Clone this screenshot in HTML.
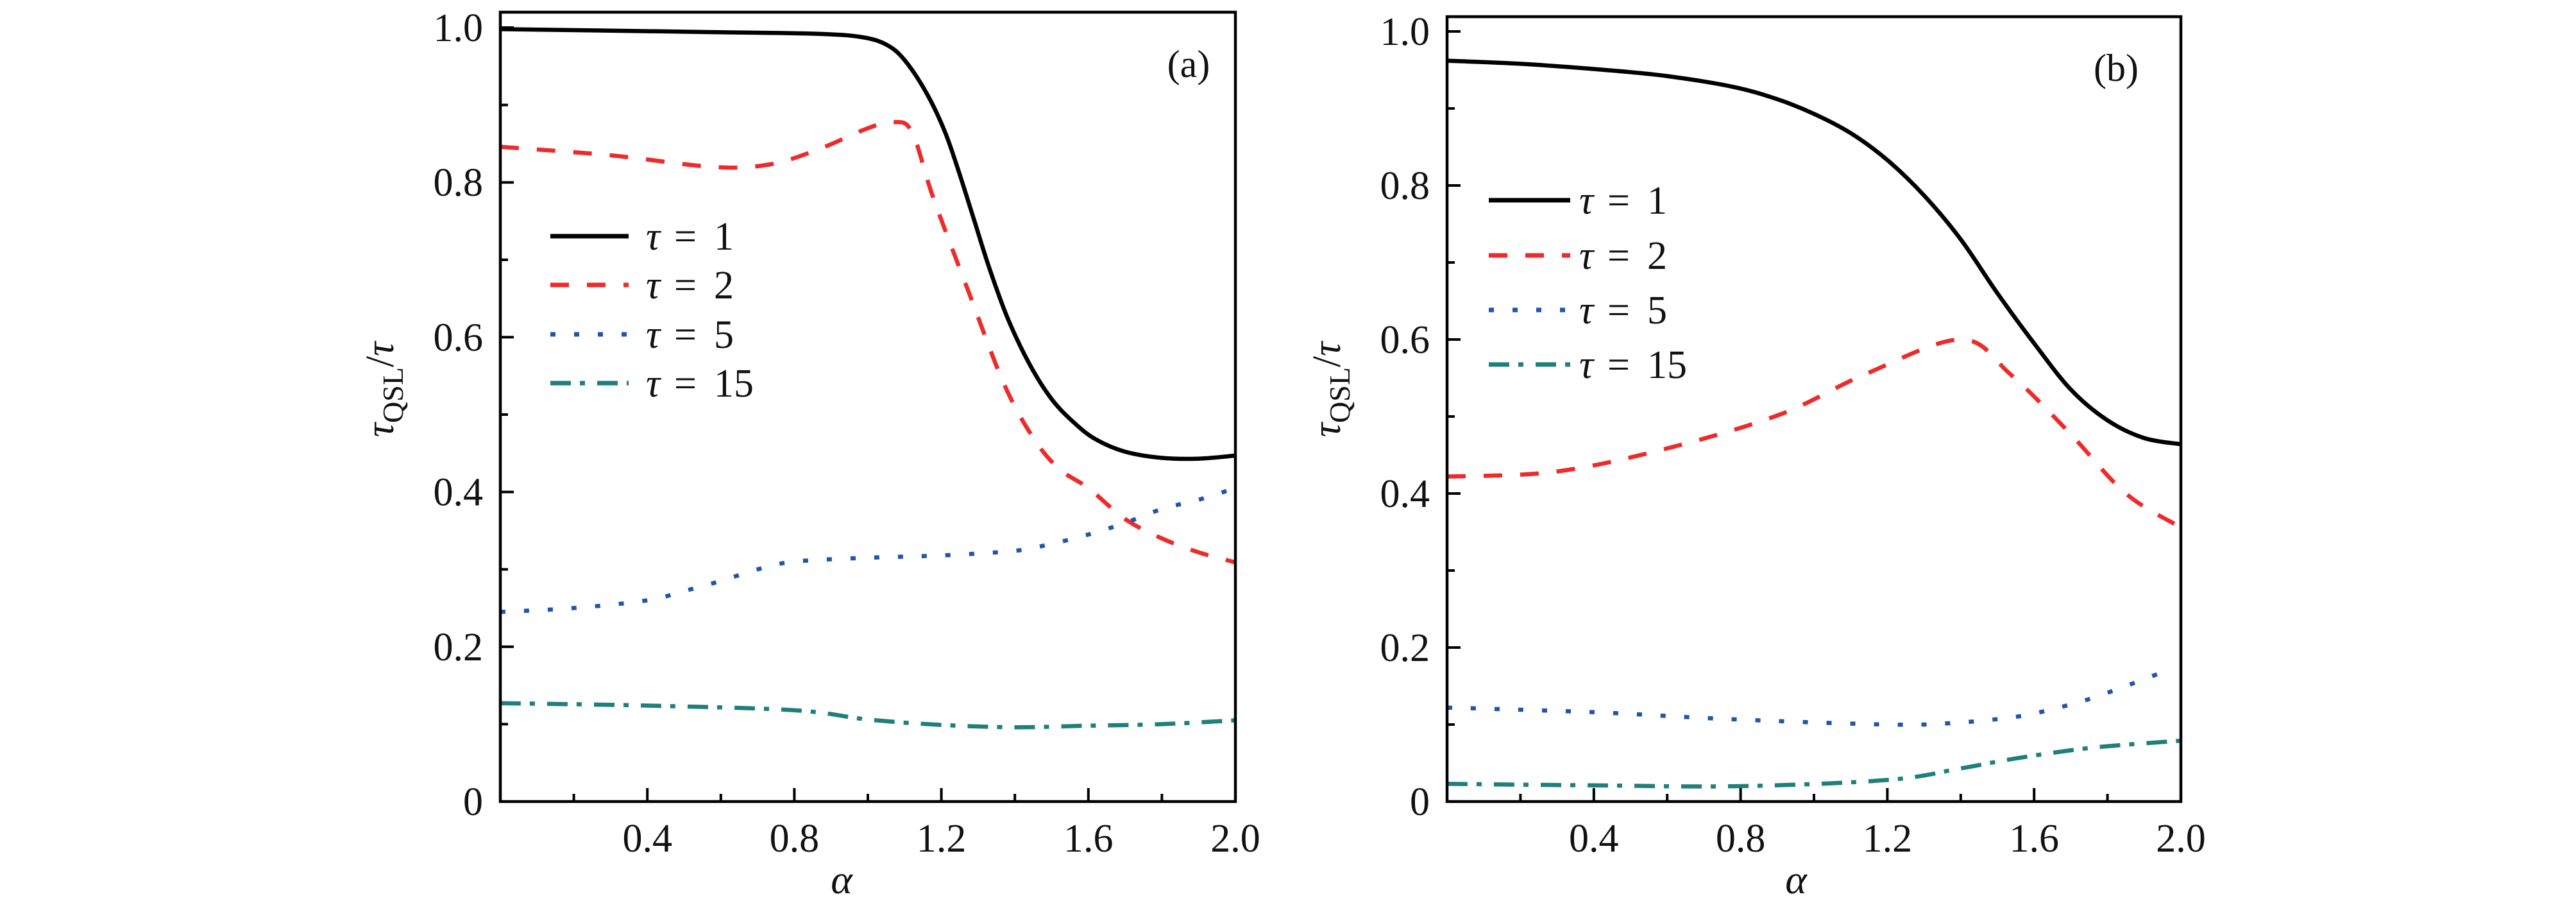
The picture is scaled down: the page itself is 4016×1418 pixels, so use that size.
<!DOCTYPE html>
<html><head><meta charset="utf-8"><style>
html,body{margin:0;padding:0;background:#fff}
svg{display:block}
text{font-family:"Liberation Serif","DejaVu Serif",serif;fill:#111}
</style></head><body>
<svg id="chart" width="4016" height="1418" viewBox="0 0 4016 1418" xmlns="http://www.w3.org/2000/svg"></svg>
<script>
// ---- data ----
const xTicks = [0.4, 0.8, 1.2, 1.6, 2.0];
const xTickLabels = ["0.4", "0.8", "1.2", "1.6", "2.0"];
const yTicks = [0, 0.2, 0.4, 0.6, 0.8, 1.0];
const yTickLabels = ["0", "0.2", "0.4", "0.6", "0.8", "1.0"];
const seriesValues = ["1", "2", "5", "15"];

const aAlpha1 = [0, 0.3, 0.6, 0.86, 0.98, 1.05, 1.1, 1.16, 1.21, 1.25, 1.29, 1.33, 1.38, 1.44, 1.5, 1.56, 1.62, 1.7, 1.8, 1.9, 2.0];
const aTau1 = [0.998, 0.996, 0.994, 0.992, 0.988, 0.978, 0.958, 0.915, 0.865, 0.81, 0.75, 0.69, 0.625, 0.565, 0.52, 0.49, 0.468, 0.452, 0.444, 0.443, 0.447];
const aAlpha2 = [0, 0.3, 0.578, 0.73, 0.862, 1.0, 1.07, 1.12, 1.178, 1.273, 1.37, 1.45, 1.52, 1.6, 1.7, 1.8, 1.9, 2.0];
const aTau2 = [0.846, 0.835, 0.82, 0.823, 0.842, 0.87, 0.878, 0.865, 0.78, 0.66, 0.54, 0.47, 0.43, 0.405, 0.365, 0.34, 0.322, 0.309];
const aAlpha5 = [0, 0.2, 0.4, 0.5, 0.6, 0.7, 0.8, 1.0, 1.2, 1.4, 1.5, 1.6, 1.7, 1.8, 1.9, 2.0];
const aTau5 = [0.245, 0.25, 0.26, 0.272, 0.285, 0.3, 0.31, 0.315, 0.318, 0.324, 0.333, 0.345, 0.36, 0.378, 0.39, 0.405];
const aAlpha15 = [0, 0.4, 0.8, 1.0, 1.2, 1.4, 1.6, 1.8, 2.0];
const aTau15 = [0.127, 0.124, 0.118, 0.106, 0.099, 0.096, 0.098, 0.1, 0.105];

const bAlpha1 = [0, 0.2, 0.43, 0.6, 0.78, 0.9, 1.0, 1.1, 1.2, 1.3, 1.4, 1.5, 1.6, 1.7, 1.8, 1.9, 2.0];
const bTau1 = [0.962, 0.958, 0.95, 0.942, 0.928, 0.912, 0.893, 0.868, 0.833, 0.787, 0.73, 0.66, 0.595, 0.535, 0.495, 0.472, 0.464];
const bAlpha2 = [0, 0.29, 0.587, 0.904, 1.14, 1.4, 1.535, 1.694, 1.85, 2.0];
const bTau2 = [0.422, 0.428, 0.457, 0.502, 0.555, 0.6, 0.555, 0.48, 0.4, 0.356];
const bAlpha5 = [0, 0.4, 0.77, 1.2, 1.38, 1.55, 1.65, 1.75, 1.85, 1.95];
const bTau5 = [0.122, 0.116, 0.107, 0.1, 0.102, 0.11, 0.12, 0.133, 0.15, 0.168];
const bAlpha15 = [0, 0.4, 0.8, 1.2, 1.4, 1.55, 1.76, 2.0];
const bTau15 = [0.023, 0.021, 0.02, 0.028, 0.043, 0.056, 0.07, 0.079];

const NS = "http://www.w3.org/2000/svg";
const svg = document.getElementById("chart");
function mk(tag, attrs, parent) {
  const e = document.createElementNS(NS, tag);
  for (const k in attrs) e.setAttribute(k, attrs[k]);
  (parent || svg).appendChild(e);
  return e;
}
const styles = [
  {color: "#000000", dash: ""},
  {color: "#ee2a2a", dash: "29 28"},
  {color: "#2255aa", dash: "8 29"},
  {color: "#1f7f7a", dash: "32 14 8 19"}
];
function smoothPath(pts) {
  let d = "M" + pts[0][0].toFixed(1) + "," + pts[0][1].toFixed(1);
  for (let i = 0; i < pts.length - 1; i++) {
    const p0 = pts[Math.max(0, i - 1)], p1 = pts[i], p2 = pts[i + 1], p3 = pts[Math.min(pts.length - 1, i + 2)];
    const c1 = [p1[0] + (p2[0] - p0[0]) / 6, p1[1] + (p2[1] - p0[1]) / 6];
    const c2 = [p2[0] - (p3[0] - p1[0]) / 6, p2[1] - (p3[1] - p1[1]) / 6];
    d += " C" + c1[0].toFixed(1) + "," + c1[1].toFixed(1) + " " + c2[0].toFixed(1) + "," + c2[1].toFixed(1) + " " + p2[0].toFixed(1) + "," + p2[1].toFixed(1);
  }
  return d;
}

function panel(cfg) {
  const g = mk("g", {});
  
  
  const L = cfg.left, R = cfg.right, T = cfg.top, B = cfg.bottom;
  const xs = v => L + (v / 2.0) * (R - L);
  const ys = v => B - v * cfg.yUnit;
  const clip = mk("clipPath", {id: cfg.name + "-clip"}, g);
  mk("rect", {x: L, y: T, width: R - L, height: B - T}, clip);
  const series = [[cfg.a1, cfg.t1], [cfg.a2, cfg.t2], [cfg.a5, cfg.t5], [cfg.a15, cfg.t15]];
  const sg = mk("g", {"clip-path": "url(#" + cfg.name + "-clip)"}, g);
  series.forEach((s, i) => {
    const pts = s[0].map((a, j) => [xs(a), ys(s[1][j])]);
    const p = mk("path", {d: smoothPath(pts), fill: "none", stroke: styles[i].color, "stroke-width": 6.5, "stroke-dasharray": styles[i].dash}, sg);
    
    
  });
  const fr = mk("rect", {x: L, y: T, width: R - L, height: B - T, fill: "none", stroke: "#000", "stroke-width": 4.5}, g);
  
  
  for (let k = 0; k <= 10; k++) {
    const v = k / 10, y = ys(v), major = k % 2 === 0;
    const t = mk("line", {x1: L, x2: L + (major ? 21 : 12), y1: y, y2: y, stroke: "#000", "stroke-width": 4}, g);
    
    
  }
  yTicks.forEach((v, i) => {
    const t = mk("text", {x: L - 27, y: ys(v) + 21, "text-anchor": "end", "font-size": 62}, g);
    t.textContent = yTickLabels[i];
    
    
  });
  for (let k = 1; k < 10; k++) {
    const v = k * 0.2, x = xs(v), major = k % 2 === 0;
    const t = mk("line", {x1: x, x2: x, y1: B, y2: B - (major ? 21 : 12), stroke: "#000", "stroke-width": 4}, g);
    
    
  }
  xTicks.forEach((v, i) => {
    const t = mk("text", {x: xs(v), y: 1327, "text-anchor": "middle", "font-size": 62}, g);
    t.textContent = xTickLabels[i];
    
    
  });
  const xt = mk("text", {x: cfg.alphaX, y: 1392, "text-anchor": "middle", "font-size": 64, "font-style": "italic"}, g);
  xt.textContent = "α";
  
  
  const yt = mk("text", {x: 0, y: 0, "text-anchor": "middle", "font-size": 62, transform: "translate(" + cfg.ylabX + "," + cfg.ylabY + ") rotate(-90)"}, g);
  
  
  const s1 = mk("tspan", {"font-style": "italic"}, yt); s1.textContent = "τ";
  const s2 = mk("tspan", {dy: 15, "font-size": 46}, yt); s2.textContent = "QSL";
  const s3 = mk("tspan", {dy: -15}, yt); s3.textContent = "/";
  const s4 = mk("tspan", {"font-style": "italic"}, yt); s4.textContent = "τ";
  const pl = mk("text", {x: cfg.tagX, y: cfg.tagY, "text-anchor": "middle", "font-size": 60}, g);
  pl.textContent = cfg.tag;
  
  
  const lg = mk("g", {}, g);
  
  
  seriesValues.forEach((val, i) => {
    const y = cfg.legY[i];
    const e = mk("g", {}, lg);
    
    
    mk("line", {x1: cfg.legX1, x2: cfg.legX2, y1: y, y2: y, stroke: styles[i].color, "stroke-width": 7, "stroke-dasharray": styles[i].dash}, e);
    const t1 = mk("text", {x: cfg.legTX, y: y + 21, "font-size": 62, "font-style": "italic"}, e);
    t1.textContent = "τ";
    const t2 = mk("text", {x: cfg.legTX + 44, y: y + 21, "font-size": 62}, e);
    t2.textContent = "=";
    const t3 = mk("text", {x: cfg.legTX + 106, y: y + 21, "font-size": 62}, e);
    t3.textContent = val;
  });
}

panel({name: "panel-a", left: 780, right: 1926, top: 19, bottom: 1249, yUnit: 1206,
  a1: aAlpha1, t1: aTau1, a2: aAlpha2, t2: aTau2, a5: aAlpha5, t5: aTau5, a15: aAlpha15, t15: aTau15,
  alphaX: 1312, ylabX: 613, ylabY: 607, tag: "(a)", tagX: 1853, tagY: 120,
  legX1: 858, legX2: 980, legTX: 1007, legY: [368, 444, 521, 597]});
panel({name: "panel-b", left: 2256, right: 3400, top: 26, bottom: 1249, yUnit: 1200,
  a1: bAlpha1, t1: bTau1, a2: bAlpha2, t2: bTau2, a5: bAlpha5, t5: bTau5, a15: bAlpha15, t15: bTau15,
  alphaX: 2800, ylabX: 2089, ylabY: 607, tag: "(b)", tagX: 3299, tagY: 126,
  legX1: 2321, legX2: 2448, legTX: 2462, legY: [312, 398, 483, 568]});
</script>
</body></html>
